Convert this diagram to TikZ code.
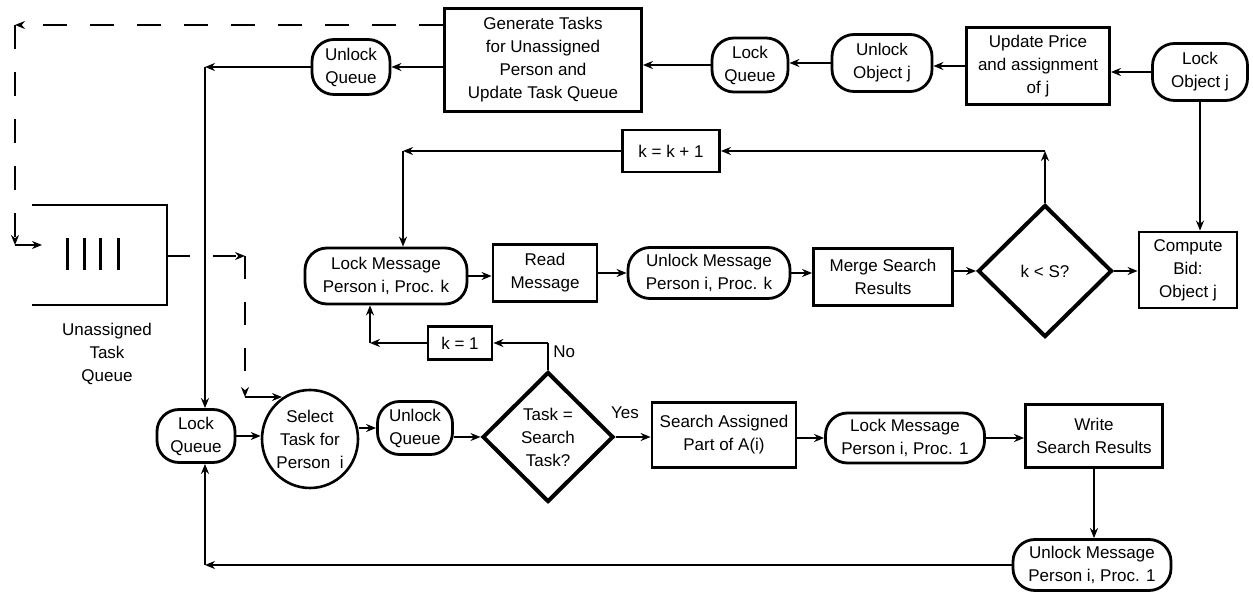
\documentclass[tikz,border=0pt]{standalone}
\usepackage{fontspec}
\setmainfont{Liberation Sans}
\usetikzlibrary{shapes.geometric,arrows.meta}

\begin{document}
\begin{tikzpicture}[x=0.5pt,y=-0.5pt,
  font=\fontsize{8.5}{11.5}\selectfont,
  every node/.style={align=center, inner sep=0pt},
  box/.style={draw, line width=1.4pt, rectangle},
  rbox/.style={draw, line width=1.4pt, rectangle, rounded corners=11pt},
  dia/.style={draw, line width=2pt, diamond, aspect=1},
  oval/.style={draw, line width=1.3pt, ellipse},
  tip/.style={-{Stealth[length=5pt,width=4pt]}},
  flow/.style={line width=1.1pt, tip},
  plain/.style={line width=1.1pt},
  dashline/.style={line width=1.1pt, dash pattern=on 12pt off 11.5pt},
]
\useasboundingbox (0,0) rectangle (1253,592);

% ---- top row: object update and task generation
\node[rbox, minimum width=47.5pt, minimum height=28.5pt] (lockobj) at (1200,72) {Lock\\Object j};
\node[box, minimum width=71.5pt, minimum height=38.5pt] (update) at (1038,66) {Update Price\\and assignment\\of j};
\node[rbox, minimum width=50pt, minimum height=28.5pt] (unlockobj) at (882,63) {Unlock\\Object j};
\node[rbox, minimum width=38pt, minimum height=27pt] (lockq1) at (750,65) {Lock\\Queue};
\node[box, minimum width=98.5pt, minimum height=51.5pt] (gen) at (543,60) {Generate Tasks\\for Unassigned\\Person and\\Update Task Queue};
\node[rbox, minimum width=39pt, minimum height=27.5pt] (unlockq1) at (351,67) {Unlock\\Queue};

% ---- middle row: message merging loop
\node[box, minimum width=48.5pt, minimum height=21pt] (kk1) at (671,151) {k = k + 1};
\node[rbox, minimum width=81pt, minimum height=28pt] (lockmk) at (386,276) {Lock Message\\Person i, Proc. k};
\node[box, minimum width=52pt, minimum height=28.5pt] (read) at (545,273) {Read\\Message};
\node[rbox, minimum width=81pt, minimum height=25.5pt] (unlockmk) at (709,273) {Unlock Message\\Person i, Proc. k};
\node[box, minimum width=69.5pt, minimum height=28.5pt] (merge) at (883,277) {Merge Search\\Results};
\node[dia, minimum width=67pt, minimum height=66pt] (ks) at (1045,271) {k < S?};
\node[box, minimum width=49pt, minimum height=38pt] (compute) at (1188,270) {Compute\\Bid:\\Object j};
\node[box, minimum width=32pt, minimum height=16.5pt] (k1) at (460,343) {k = 1};

% ---- bottom row: task selection and search
\node[rbox, minimum width=39pt, minimum height=26.5pt] (lockq2) at (196,436) {Lock\\Queue};
\node[oval, minimum width=48pt, minimum height=49pt] (sel) at (310,439) {Select\\Task for\\Person\ \ i};
\node[rbox, minimum width=37.5pt, minimum height=26.5pt] (unlockq2) at (415,428) {Unlock\\Queue};
\node[dia, minimum width=65.5pt, minimum height=65pt] (task) at (548,437) {Task =\\Search\\Task?};
\node[box, minimum width=72pt, minimum height=32.5pt] (search) at (724,435) {Search Assigned\\Part of A(i)};
\node[rbox, minimum width=79.5pt, minimum height=25pt] (lockm1) at (905,438) {Lock Message\\Person i, Proc. 1};
\node[box, minimum width=68.5pt, minimum height=31.5pt] (write) at (1094,436) {Write\\Search Results};
\node[rbox, minimum width=79pt, minimum height=25.5pt] (unlockm1) at (1092,565) {Unlock Message\\Person i, Proc. 1};

% ---- unassigned task queue
\draw[line width=1.4pt] (32,205) -- (167,205) -- (167,305) -- (32,305);
\foreach \x in {67,84,100,118} \draw[line width=1.5pt] (\x,238) -- (\x,270);
\node (qlabel) at (107,354) {Unassigned\\Task\\Queue};
\coordinate (qr) at (167,256);

% ---- corner points of the connectors
\coordinate (c1) at (205,67);
\coordinate (c2) at (ks.north |- kk1.east);
\coordinate (c3) at (403,151);
\coordinate (c4) at (task.north |- k1.east);
\coordinate (c5) at (370,343);
\coordinate (c6) at (c1 |- unlockm1.west);
\coordinate (d1) at (15,25);
\coordinate (d2) at (15,245);
\coordinate (d3) at (42,245);
\coordinate (d4) at (245,256);
\coordinate (d5) at (245,397);
\coordinate (d6) at (282,397);

% ---- top row connectors
\draw[flow] (lockobj.west) -- (lockobj.west -| update.east);
\draw[flow] (update.west) -- (update.west -| unlockobj.east);
\draw[flow] (unlockobj.west) -- (unlockobj.west -| lockq1.east);
\draw[flow] (lockq1.west) -- (lockq1.west -| gen.east);
\draw[flow] (gen.west |- unlockq1.east) -- (unlockq1.east);
\draw[flow] (unlockq1.west) -- (c1);
\draw[flow] (c1) -- (c1 |- lockq2.north);

% ---- dashed queue links
\draw[dashline, tip] (gen.west |- d1) -- (d1);
\draw[dashline, tip] (d1) -- (d2);
\draw[flow] (d2) -- (d3);
\draw[line width=1.1pt, dash pattern=on 11.5pt off 11.5pt, tip] (qr) -- (d4);
\draw[line width=1.1pt, dash pattern=on 11.5pt off 11.5pt, tip] (d4) -- (d5);
\draw[flow] (d5) -- (d6);

% ---- middle row connectors
\draw[flow] (lockobj.south) -- (lockobj.south |- compute.north);
\draw[flow] (ks.north) -- (c2);
\draw[flow] (c2) -- (kk1.east);
\draw[flow] (kk1.west) -- (c3);
\draw[flow] (c3) -- (c3 |- lockmk.north);
\draw[flow] (lockmk.east) -- (lockmk.east -| read.west);
\draw[flow] (read.east) -- (read.east -| unlockmk.west);
\draw[flow] (unlockmk.east) -- (unlockmk.east -| merge.west);
\draw[flow] (merge.east |- ks.west) -- (ks.west);
\draw[flow] (ks.east) -- (ks.east -| compute.west);

% ---- "No" branch back to the message loop
\draw[plain] (task.north) -- (c4);
\draw[flow] (c4) -- (k1.east);
\node[anchor=west] (no) at (553,352) {No};
\draw[flow] (k1.west) -- (c5);
\draw[flow] (c5) -- (c5 |- lockmk.south);

% ---- bottom row connectors
\draw[flow] (lockq2.east) -- (lockq2.east -| sel.west);
\draw[flow] (sel.east |- unlockq2.west) -- (unlockq2.west);
\draw[flow] (unlockq2.east |- task.west) -- (task.west);
\draw[flow] (task.east) -- (task.east -| search.west);
\node (yes) at (625,413) {Yes};
\draw[flow] (search.east |- lockm1.west) -- (lockm1.west);
\draw[flow] (lockm1.east) -- (lockm1.east -| write.west);
\draw[flow] (write.south) -- (write.south |- unlockm1.north);
\draw[flow] (unlockm1.west) -- (c6);
\draw[flow] (c6) -- (c6 |- lockq2.south);
\end{tikzpicture}
\end{document}
